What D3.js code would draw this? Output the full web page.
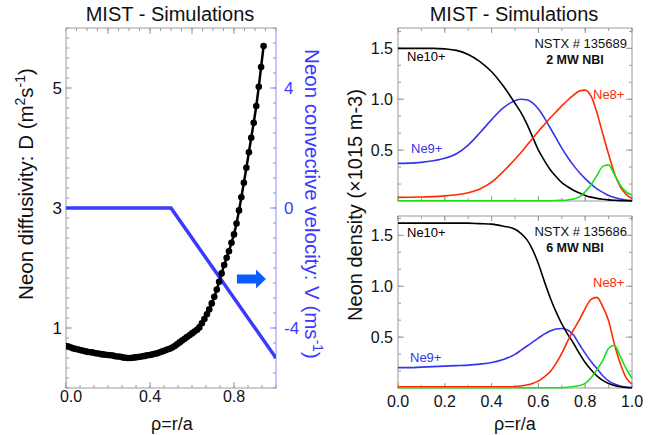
<!DOCTYPE html>
<html><head><meta charset="utf-8">
<script src="https://cdn.jsdelivr.net/npm/d3@7"></script>
<style>
html,body{margin:0;padding:0;background:#fff;}
svg{display:block;font-family:"Liberation Sans",Arial,sans-serif;}
</style></head>
<body><svg id="c" width="649" height="435"></svg>
<script>
// ---------- Left panel data ----------
const rhoD = [0.000,0.012,0.024,0.035,0.047,0.059,0.071,0.082,0.094,0.106,0.118,0.129,0.141,0.153,0.165,0.176,0.188,0.200,0.212,0.224,0.235,0.247,0.259,0.271,0.282,0.294,0.306,0.318,0.329,0.341,0.353,0.365,0.376,0.388,0.400,0.412,0.424,0.435,0.447,0.459,0.471,0.482,0.494,0.506,0.518,0.529,0.541,0.553,0.565,0.576,0.588,0.600,0.612,0.624,0.635,0.647,0.659,0.671,0.682,0.694,0.706,0.718,0.729,0.741,0.753,0.765,0.776,0.788,0.800,0.812,0.824,0.835,0.847,0.859,0.871,0.882,0.894,0.906,0.918,0.929,0.941];
const diffD = [0.70,0.69,0.675,0.66,0.65,0.64,0.63,0.62,0.61,0.60,0.595,0.59,0.58,0.575,0.565,0.56,0.555,0.55,0.545,0.54,0.53,0.525,0.52,0.51,0.505,0.50,0.50,0.505,0.51,0.515,0.52,0.53,0.535,0.545,0.55,0.56,0.57,0.58,0.595,0.61,0.625,0.64,0.655,0.675,0.70,0.73,0.76,0.79,0.82,0.85,0.88,0.91,0.94,0.97,1.01,1.08,1.15,1.23,1.31,1.41,1.52,1.64,1.77,1.91,2.05,2.17,2.28,2.42,2.56,2.74,2.96,3.18,3.42,3.67,3.93,4.17,4.42,4.70,5.02,5.35,5.70];
const rhoV = [0.0, 0.5, 1.0];
const velV = [0.0, 0.0, -5.0];
const dTickLabels = [1, 3, 5];
const vTickLabels = [-4, 0, 4];
const xTickLabelsL = ["0.0", "0.4", "0.8"];

// ---------- Right panel data ----------
const rhoN = [0,0.05,0.1,0.15,0.2,0.25,0.3,0.35,0.4,0.45,0.5,0.525,0.55,0.575,0.6,0.625,0.65,0.675,0.7,0.725,0.75,0.775,0.8,0.825,0.85,0.875,0.9,0.925,0.95,0.975,1.0];
// 2 MW NBI (NSTX # 135689)
const ne10_2MW = [1.50,1.50,1.50,1.50,1.495,1.48,1.44,1.37,1.27,1.13,0.96,0.87,0.76,0.63,0.50,0.40,0.31,0.24,0.18,0.14,0.105,0.078,0.055,0.038,0.026,0.017,0.011,0.007,0.004,0.002,0.001];
const ne9_2MW  = [0.37,0.372,0.38,0.395,0.42,0.465,0.55,0.67,0.80,0.915,0.985,1.0,0.995,0.965,0.905,0.82,0.72,0.62,0.52,0.43,0.35,0.28,0.22,0.165,0.12,0.085,0.055,0.035,0.02,0.01,0.005];
const ne8_2MW  = [0.036,0.037,0.04,0.043,0.05,0.062,0.082,0.118,0.185,0.29,0.41,0.475,0.545,0.615,0.685,0.75,0.815,0.875,0.935,0.99,1.04,1.08,1.09,1.03,0.87,0.66,0.46,0.27,0.14,0.065,0.025];
const ne7_2MW  = [0.003,0.003,0.003,0.003,0.003,0.003,0.003,0.003,0.003,0.003,0.003,0.003,0.003,0.003,0.003,0.003,0.003,0.005,0.007,0.01,0.02,0.04,0.09,0.16,0.25,0.34,0.355,0.26,0.155,0.09,0.06];
// 6 MW NBI (NSTX # 135686)
const ne10_6MW = [1.62,1.62,1.62,1.62,1.62,1.62,1.62,1.615,1.61,1.59,1.56,1.52,1.46,1.36,1.22,1.05,0.89,0.75,0.63,0.53,0.44,0.34,0.25,0.18,0.12,0.075,0.045,0.025,0.012,0.005,0.002];
const ne9_6MW  = [0.20,0.20,0.205,0.21,0.215,0.22,0.225,0.235,0.25,0.28,0.33,0.37,0.41,0.45,0.49,0.53,0.56,0.58,0.585,0.57,0.52,0.43,0.34,0.26,0.19,0.12,0.07,0.04,0.02,0.01,0.005];
const ne8_6MW  = [0.012,0.012,0.012,0.012,0.012,0.012,0.012,0.012,0.012,0.012,0.015,0.02,0.03,0.045,0.07,0.11,0.16,0.24,0.34,0.46,0.57,0.67,0.78,0.87,0.89,0.80,0.66,0.43,0.24,0.10,0.04];
const ne7_6MW  = [0.003,0.003,0.003,0.003,0.003,0.003,0.003,0.003,0.003,0.003,0.003,0.003,0.003,0.003,0.003,0.003,0.003,0.003,0.003,0.007,0.015,0.025,0.045,0.10,0.18,0.27,0.39,0.42,0.31,0.19,0.095];
const nTickLabels = ["0.5", "1.0", "1.5"];
const xTickLabelsR = ["0.0", "0.2", "0.4", "0.6", "0.8", "1.0"];

const svg = d3.select("#c");
const GRAY = "#9a9a9a";
const BLUE = "#3a3aff";

// ---------- Left panel ----------
const xL = d3.scaleLinear().domain([0, 1]).range([66, 276]);
const yD = d3.scaleLinear().domain([0, 6]).range([388, 28]);
const yV = d3.scaleLinear().domain([-6, 6]).range([388, 28]);

function ticksX(g, scale, vals, y, len, dir, color) {
  vals.forEach(v => g.append("line").attr("x1", scale(v)).attr("x2", scale(v))
    .attr("y1", y).attr("y2", y + dir * len).attr("stroke", color).attr("stroke-width", 1));
}
function ticksY(g, scale, vals, x, len, dir, color) {
  vals.forEach(v => g.append("line").attr("y1", scale(v)).attr("y2", scale(v))
    .attr("x1", x).attr("x2", x + dir * len).attr("stroke", color).attr("stroke-width", 1));
}
const L = svg.append("g");
L.append("line").attr("x1",66).attr("x2",276).attr("y1",388).attr("y2",388).attr("stroke",GRAY);
L.append("line").attr("x1",66).attr("x2",276).attr("y1",28).attr("y2",28).attr("stroke",GRAY);
L.append("line").attr("x1",66).attr("x2",66).attr("y1",28).attr("y2",388).attr("stroke",GRAY);
L.append("line").attr("x1",276).attr("x2",276).attr("y1",28).attr("y2",388).attr("stroke","#8f8fff");
ticksX(L, xL, d3.range(0, 16).map(k => k * 0.4 / 6), 388, 3, -1, GRAY);
ticksX(L, xL, [0, 0.4, 0.8], 388, 6, -1, GRAY);
ticksX(L, xL, d3.range(0, 21).map(k => k * 0.05), 28, 3, 1, GRAY);
ticksX(L, xL, [0.2, 0.4, 0.6, 0.8], 28, 6, 1, GRAY);
ticksY(L, yD, d3.range(0, 37).map(k => k / 6), 66, 3, 1, GRAY);
ticksY(L, yD, [1, 3, 5], 66, 6, 1, GRAY);
ticksY(L, yV, d3.range(-12, 13).map(k => k * 0.5), 276, 3, -1, "#8f8fff");
ticksY(L, yV, [-4, 0, 4], 276, 6, -1, "#8f8fff");
xTickLabelsL.forEach((s,i) => L.append("text").attr("x", xL(+s) + (i === 0 ? 5 : 0)).attr("y", 402)
  .attr("text-anchor","middle").attr("font-size",16).attr("fill","#111").text(s));
dTickLabels.forEach(v => L.append("text").attr("x", 62).attr("y", yD(v) + 6)
  .attr("text-anchor","end").attr("font-size",17).attr("fill","#111").text(v));
vTickLabels.forEach(v => L.append("text").attr("x", 284).attr("y", yV(v) + 6)
  .attr("text-anchor","start").attr("font-size",17).attr("fill",BLUE).text(v));
L.append("text").attr("x",170).attr("y",21).attr("text-anchor","middle").attr("font-size",20).attr("fill","#111").text("MIST - Simulations");
L.append("text").attr("x",172).attr("y",430).attr("text-anchor","middle").attr("font-size",18).attr("fill","#111").text("ρ=r/a");
const yl = L.append("text").attr("transform","translate(33,184) rotate(-90)").attr("text-anchor","middle").attr("font-size",20.5).attr("fill","#111");
yl.append("tspan").text("Neon diffusivity: D (m");
yl.append("tspan").attr("dy",-8).attr("font-size",14).text("2");
yl.append("tspan").attr("dy",8).text("s");
yl.append("tspan").attr("dy",-8).attr("font-size",14).text("-1");
yl.append("tspan").attr("dy",8).text(")");
const yr = L.append("text").attr("transform","translate(305,204) rotate(90)").attr("text-anchor","middle").attr("font-size",20.5).attr("fill",BLUE);
yr.append("tspan").text("Neon convective velocity: V (ms");
yr.append("tspan").attr("dy",-8).attr("font-size",14).text("-1");
yr.append("tspan").attr("dy",8).text(")");

L.append("defs").append("clipPath").attr("id","clipL").append("rect").attr("x",66).attr("y",28).attr("width",210).attr("height",360);
const lc = L.append("g").attr("clip-path","url(#clipL)");
lc.append("path").datum(rhoV.map((r,i)=>[r, velV[i]]))
  .attr("d", d3.line().x(d=>xL(d[0])).y(d=>yV(d[1])))
  .attr("fill","none").attr("stroke",BLUE).attr("stroke-width",3.5);
lc.append("path").datum(rhoD.map((r,i)=>[r, diffD[i]]))
  .attr("d", d3.line().x(d=>xL(d[0])).y(d=>yD(d[1])))
  .attr("fill","none").attr("stroke","#000").attr("stroke-width",2.5);
lc.selectAll("circle.d").data(rhoD.map((r,i)=>[r, diffD[i]])).enter().append("circle")
  .attr("cx", d=>xL(d[0])).attr("cy", d=>yD(d[1])).attr("r",3.3).attr("fill","#000");
const arrowRho = [0.814, 0.905, 0.952];
const arrowV = -2.37;
const ax0 = xL(arrowRho[0]), ax1 = xL(arrowRho[1]), ax2 = xL(arrowRho[2]), ay = yV(arrowV);
L.append("path").attr("d", `M${ax0},${ay-4.5}L${ax1},${ay-4.5}L${ax1},${ay-9.5}L${ax2},${ay}L${ax1},${ay+9.5}L${ax1},${ay+4.5}L${ax0},${ay+4.5}Z`)
  .attr("fill","#0a5cff");

// ---------- Right panels ----------
const xR = d3.scaleLinear().domain([0, 1]).range([398, 632]);
function panel(top, bottom, ymax, series, shot, power, labels, showX) {
  const y = d3.scaleLinear().domain([0, ymax]).range([bottom, top]);
  const g = svg.append("g");
  g.append("rect").attr("x",398).attr("y",top).attr("width",234).attr("height",bottom-top).attr("fill","none").attr("stroke",GRAY);
  ticksX(g, xR, d3.range(0,11).map(k=>k*0.1), bottom, 3, -1, GRAY);
  ticksX(g, xR, d3.range(0,6).map(k=>k*0.2), bottom, 5, -1, GRAY);
  ticksX(g, xR, d3.range(0,11).map(k=>k*0.1), top, 3, 1, GRAY);
  ticksX(g, xR, d3.range(0,6).map(k=>k*0.2), top, 5, 1, GRAY);
  const yt = d3.range(0, 11).map(k => k * 0.5 / 3).filter(v => v <= ymax);
  ticksY(g, y, yt, 398, 3, 1, GRAY);
  ticksY(g, y, [0.5,1.0,1.5], 398, 6, 1, GRAY);
  ticksY(g, y, yt, 632, 3, -1, GRAY);
  ticksY(g, y, [0.5,1.0,1.5], 632, 6, -1, GRAY);
  nTickLabels.forEach(s => g.append("text").attr("x",393).attr("y", y(+s)+5.5)
    .attr("text-anchor","end").attr("font-size",16).attr("fill","#111").text(s));
  if (showX) xTickLabelsR.forEach(s => g.append("text").attr("x", xR(+s)).attr("y", bottom+19)
    .attr("text-anchor","middle").attr("font-size",16).attr("fill","#111").text(s));
  const line = d3.line().x((d,i)=>xR(rhoN[i])).y(d=>y(d)).curve(d3.curveMonotoneX);
  series.forEach(s => g.append("path").datum(s.v).attr("d", line).attr("fill","none")
    .attr("stroke", s.c).attr("stroke-width",1.6));
  g.append("text").attr("x",627).attr("y",top+20).attr("text-anchor","end").attr("font-size",13).attr("fill","#111").text(shot);
  g.append("text").attr("x",575).attr("y",top+36).attr("text-anchor","middle").attr("font-size",12.5).attr("font-weight","bold").attr("fill","#111").text(power);
  labels.forEach(l => g.append("text").attr("x", l.x).attr("y", y(l.n)).attr("font-size",13).attr("fill", l.c).text(l.t));
  return y;
}
const cK = "#000", cB = "#3535f0", cR = "#ff2a00", cG = "#17e017";
panel(28, 201, 1.7,
  [{v:ne9_2MW,c:cB},{v:ne10_2MW,c:cK},{v:ne8_2MW,c:cR},{v:ne7_2MW,c:cG}],
  "NSTX # 135689", "2 MW NBI",
  [{t:"Ne10+",x:407,n:1.38,c:cK},{t:"Ne9+",x:411,n:0.47,c:cB},{t:"Ne8+",x:593,n:1.0,c:cR}], false);
panel(216, 388, 1.69,
  [{v:ne9_6MW,c:cB},{v:ne10_6MW,c:cK},{v:ne8_6MW,c:cR},{v:ne7_6MW,c:cG}],
  "NSTX # 135686", "6 MW NBI",
  [{t:"Ne10+",x:407,n:1.48,c:cK},{t:"Ne9+",x:410,n:0.26,c:cB},{t:"Ne8+",x:593,n:0.99,c:cR}], true);
svg.append("text").attr("x",514).attr("y",21).attr("text-anchor","middle").attr("font-size",20).attr("fill","#111").text("MIST - Simulations");
svg.append("text").attr("x",515).attr("y",430).attr("text-anchor","middle").attr("font-size",18).attr("fill","#111").text("ρ=r/a");
svg.append("text").attr("transform","translate(362,205) rotate(-90)").attr("text-anchor","middle").attr("font-size",20).attr("fill","#111").text("Neon density (×1015 m-3)");
</script></body></html>
